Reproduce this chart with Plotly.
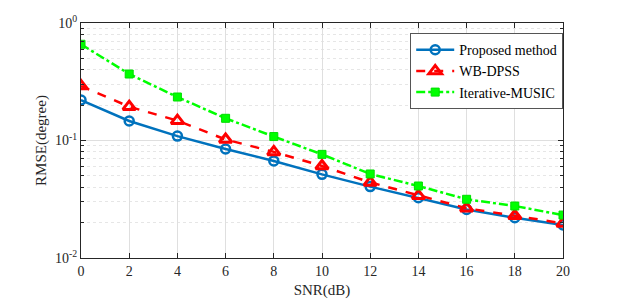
import plotly.graph_objects as go

snr = [0, 2, 4, 6, 8, 10, 12, 14, 16, 18, 20]
proposed = [0.221, 0.1465, 0.109, 0.0847, 0.067, 0.0515, 0.0405, 0.0326, 0.0259, 0.022, 0.0191]
wb_dpss = [0.291, 0.194, 0.1475, 0.102, 0.080, 0.0607, 0.044, 0.0339, 0.0265, 0.0229, 0.0197]
iter_music = [0.659, 0.368, 0.2345, 0.1545, 0.108, 0.0762, 0.0519, 0.041, 0.0316, 0.0277, 0.0232]

y_tickvals = [1e-2, 1e-1, 1]
y_ticktext = ["10<sup>-2</sup>", "10<sup>-1</sup>", "10<sup>0</sup>"]
x_tickvals = [0, 2, 4, 6, 8, 10, 12, 14, 16, 18, 20]

font_family = "Liberation Serif, Times New Roman, serif"

fig = go.Figure()
fig.add_trace(go.Scatter(
    x=snr, y=proposed, name="Proposed method", mode="lines+markers",
    line=dict(color="#0072BD", width=2.5, dash="solid"),
    marker=dict(symbol="circle-open", size=9, color="#0072BD", line=dict(width=2.5, color="#0072BD")),
))
fig.add_trace(go.Scatter(
    x=snr, y=wb_dpss, name="WB-DPSS", mode="lines+markers",
    line=dict(color="#FF0000", width=2.5, dash="dash"),
    marker=dict(symbol="triangle-up-open", size=11, color="#FF0000", line=dict(width=3, color="#FF0000")),
))
fig.add_trace(go.Scatter(
    x=snr, y=iter_music, name="Iterative-MUSIC", mode="lines+markers",
    line=dict(color="#00FF00", width=2.5, dash="dashdot"),
    marker=dict(symbol="square", size=8, color="#00FF00", line=dict(width=1, color="#00DD00")),
))

axis_common = dict(
    showline=True, mirror="ticks", linecolor="#262626", linewidth=1,
    ticks="inside", ticklen=5, tickcolor="#262626",
    showgrid=True, gridcolor="#DFDFDF", gridwidth=1,
    zeroline=False, automargin=False,
    tickfont=dict(family=font_family, size=14, color="#262626"),
    title_font=dict(family=font_family, size=15, color="#262626"),
)

fig.update_xaxes(
    range=[0, 20], tickvals=x_tickvals, title_text="SNR(dB)", title_standoff=6,
    **axis_common,
)
fig.update_yaxes(
    type="log", range=[-2, 0], tickvals=y_tickvals, ticktext=y_ticktext,
    title_text="RMSE(degree)", title_standoff=4,
    minor=dict(showgrid=True, gridcolor="#E6E6E6", griddash="dot", ticks="inside", ticklen=3,
               tickcolor="#262626", dtick="D1"),
    **axis_common,
)

fig.update_layout(
    width=616, height=296,
    margin=dict(l=73, r=61, t=15, b=46),
    paper_bgcolor="white", plot_bgcolor="white",
    font=dict(family=font_family, color="#262626"),
    showlegend=True,
    legend=dict(
        x=0.683, y=0.957, xanchor="left", yanchor="top",
        bgcolor="white", bordercolor="#555555", borderwidth=1,
        font=dict(family=font_family, size=14, color="#000000"),
        tracegroupgap=0, itemwidth=38,
    ),
)

fig.write_html("out.html")
